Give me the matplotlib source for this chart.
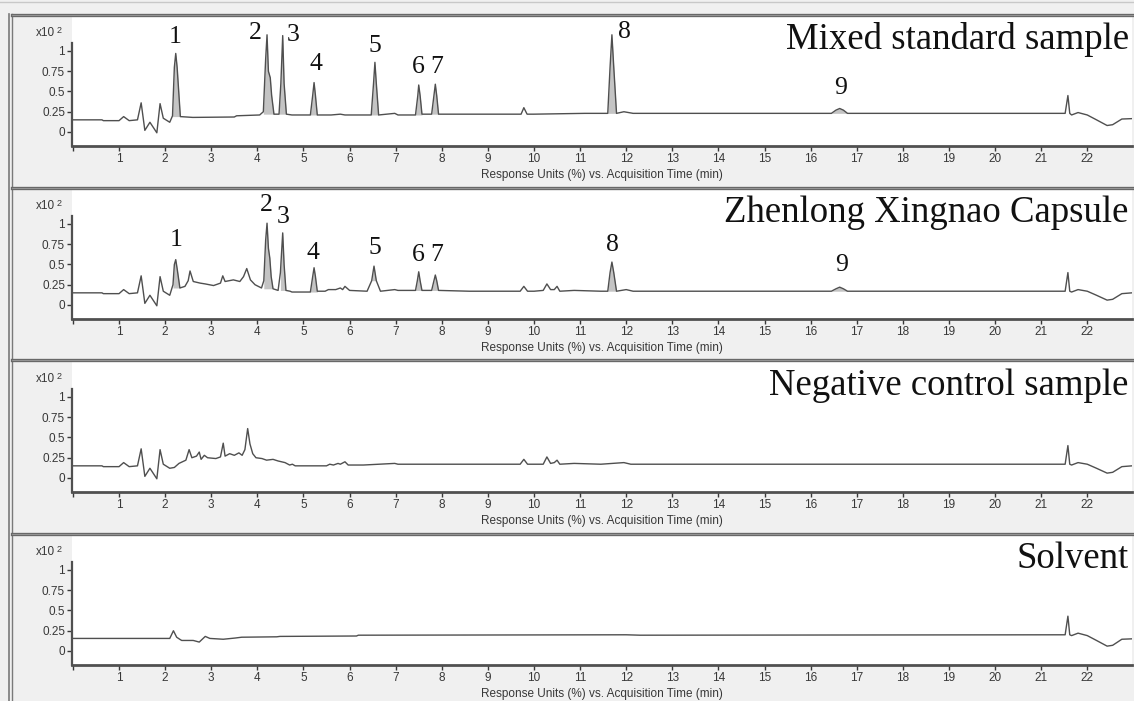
import numpy as np
import matplotlib.pyplot as plt
from matplotlib.lines import Line2D

# Retention time (min) / response (x10^2)
front_t = [0, 0.63, 0.66, 1.0, 1.1, 1.22, 1.4, 1.48, 1.56, 1.67, 1.82, 1.89, 1.96, 2.1]
front_y = [0.15, 0.15, 0.14, 0.14, 0.19, 0.14, 0.15, 0.36, 0.02, 0.12, -0.01, 0.35, 0.17, 0.12]

mixed_t = front_t + [2.16, 2.2, 2.23, 2.26, 2.33, 2.6, 3.5, 3.55, 4.05, 4.13, 4.18, 4.21, 4.24,
                     4.28, 4.31, 4.36, 4.47, 4.51, 4.55, 4.58, 4.63, 4.75, 5.15, 5.2, 5.23, 5.26,
                     5.3, 5.6, 5.8, 5.9, 6.0, 6.47, 6.52, 6.55, 6.58, 6.63, 6.98, 7.05, 7.43,
                     7.48, 7.5, 7.53, 7.57, 7.78, 7.83, 7.86, 7.89, 7.93, 8.6, 9.2, 9.72, 9.78,
                     9.85, 10.0, 11.1, 11.45, 11.6, 11.65, 11.69, 11.73, 11.79, 11.95, 12.15,
                     16.45, 16.55, 16.63, 16.71, 16.8, 21.52, 21.58, 21.62, 21.66, 21.8, 22.0,
                     22.2, 22.43, 22.55, 22.75, 22.97]
mixed_y = front_y + [0.2, 0.8, 0.97, 0.8, 0.19, 0.18, 0.185, 0.2, 0.21, 0.25, 0.9, 1.2, 0.75,
                     0.67, 0.45, 0.22, 0.22, 0.6, 1.19, 0.6, 0.22, 0.21, 0.21, 0.45, 0.61, 0.45,
                     0.21, 0.21, 0.22, 0.21, 0.21, 0.21, 0.6, 0.86, 0.6, 0.21, 0.23, 0.21, 0.21,
                     0.45, 0.58, 0.45, 0.22, 0.22, 0.45, 0.59, 0.45, 0.22, 0.22, 0.22, 0.22, 0.3,
                     0.22, 0.22, 0.23, 0.23, 0.23, 0.8, 1.2, 0.8, 0.23, 0.25, 0.23,
                     0.23, 0.27, 0.29, 0.27, 0.23, 0.23, 0.45, 0.23, 0.21, 0.24, 0.21,
                     0.15, 0.08, 0.09, 0.16, 0.165]

capsule_t = front_t + [2.17, 2.2, 2.23, 2.26, 2.32, 2.43, 2.5, 2.54, 2.61, 2.76, 2.87, 3.05, 3.2,
                       3.25, 3.3, 3.48, 3.62, 3.7, 3.77, 3.85, 3.95, 4.09, 4.14, 4.18, 4.21, 4.24,
                       4.27, 4.3, 4.34, 4.45, 4.5, 4.55, 4.58, 4.62, 4.71, 4.75, 5.15, 5.2, 5.23,
                       5.26, 5.3, 5.47, 5.54, 5.7, 5.8, 5.85, 5.9, 6.0, 6.38, 6.48, 6.53, 6.58,
                       6.67, 6.98, 7.05, 7.43, 7.47, 7.5, 7.53, 7.57, 7.78, 7.83, 7.86, 7.89, 7.93,
                       8.6, 8.9, 9.2, 9.7, 9.78, 9.86, 10.0, 10.2, 10.28, 10.36, 10.44, 10.5,
                       10.56, 10.87, 11.45, 11.6, 11.65, 11.69, 11.73, 11.79, 12.0, 12.15,
                       16.45, 16.55, 16.63, 16.71, 16.8, 21.52, 21.58, 21.62, 21.66, 21.8, 22.0,
                       22.2, 22.43, 22.55, 22.75, 22.97]
capsule_y = front_y + [0.25, 0.5, 0.56, 0.45, 0.21, 0.23, 0.3, 0.42, 0.29, 0.27, 0.26, 0.24, 0.27,
                       0.36, 0.29, 0.31, 0.29, 0.35, 0.45, 0.31, 0.25, 0.21, 0.3, 0.8, 1.01, 0.7,
                       0.58, 0.35, 0.2, 0.18, 0.4, 0.89, 0.5, 0.18, 0.17, 0.16, 0.16, 0.35, 0.46,
                       0.35, 0.17, 0.17, 0.19, 0.19, 0.21, 0.19, 0.23, 0.18, 0.17, 0.3, 0.48, 0.3,
                       0.17, 0.19, 0.18, 0.18, 0.3, 0.41, 0.3, 0.18, 0.18, 0.3, 0.37, 0.3, 0.18,
                       0.17, 0.17, 0.17, 0.17, 0.23, 0.17, 0.17, 0.18, 0.26, 0.19, 0.19, 0.23,
                       0.17, 0.18, 0.17, 0.17, 0.4, 0.53, 0.4, 0.17, 0.19, 0.17,
                       0.17, 0.2, 0.22, 0.2, 0.17, 0.17, 0.4, 0.17, 0.16, 0.19, 0.17,
                       0.12, 0.06, 0.07, 0.14, 0.15]

negative_t = front_t + [2.2, 2.3, 2.45, 2.52, 2.58, 2.68, 2.74, 2.78, 2.85, 2.92, 3.1, 3.2, 3.26,
                        3.3, 3.4, 3.5, 3.6, 3.67, 3.73, 3.79, 3.84, 3.9, 3.97, 4.1, 4.2, 4.34,
                        4.45, 4.6, 4.7, 4.76, 4.82, 5.5, 5.57, 5.65, 5.75, 5.8, 5.9, 5.97, 6.3,
                        6.98, 7.05, 9.7, 9.78, 9.86, 10.2, 10.28, 10.36, 10.44, 10.5, 10.56,
                        10.87, 11.45, 11.95, 12.1, 21.52, 21.58, 21.62, 21.66, 21.8, 22.0, 22.2,
                        22.43, 22.55, 22.75, 22.97]
negative_y = front_y + [0.13, 0.18, 0.22, 0.35, 0.25, 0.27, 0.32, 0.23, 0.28, 0.25, 0.24, 0.26, 0.43,
                        0.27, 0.3, 0.28, 0.31, 0.28, 0.35, 0.61, 0.42, 0.3, 0.25, 0.24, 0.22, 0.23,
                        0.21, 0.19, 0.16, 0.17, 0.15, 0.15, 0.17, 0.16, 0.18, 0.17, 0.2, 0.16, 0.16,
                        0.18, 0.17, 0.17, 0.23, 0.17, 0.17, 0.26, 0.18, 0.19, 0.22, 0.17,
                        0.18, 0.17, 0.19, 0.17, 0.17, 0.4, 0.17, 0.16, 0.19, 0.17, 0.12,
                        0.06, 0.07, 0.14, 0.15]

solvent_t = [0, 2.1, 2.18, 2.25, 2.33, 2.36, 2.61, 2.74, 2.87, 2.97, 3.26, 3.52, 3.66, 4.42, 4.49,
             6.15, 6.19, 12.0, 12.3, 21.52, 21.58, 21.62, 21.66, 21.8, 22.0, 22.2, 22.43, 22.55,
             22.75, 22.97]
solvent_y = [0.155, 0.155, 0.25, 0.17, 0.14, 0.13, 0.13, 0.11, 0.18, 0.155, 0.145, 0.16, 0.17, 0.175,
             0.18, 0.185, 0.195, 0.2, 0.195, 0.2, 0.43, 0.2, 0.19, 0.22, 0.19, 0.13, 0.06, 0.07,
             0.145, 0.15]

sample_names = ['Mixed standard sample', 'Zhenlong Xingnao Capsule',
                'Negative control sample', 'Solvent']

# integrated (grey-filled) peak windows, min
peak_windows = [(2.15, 2.33), (4.12, 4.36), (4.47, 4.63), (5.15, 5.3), (6.47, 6.63),
                (7.43, 7.57), (7.78, 7.93), (11.6, 11.79), (16.45, 16.8)]

peak_numbers = ['1', '2', '3', '4', '5', '6', '7', '8', '9']
mixed_label_x = [2.21, 3.95, 4.77, 5.26, 6.55, 7.5, 7.9, 11.97, 16.64]
mixed_label_y = [1.17, 1.22, 1.2, 0.84, 1.06, 0.8, 0.8, 1.24, 0.54]
capsule_label_x = [2.23, 4.2, 4.55, 5.2, 6.54, 7.5, 7.9, 11.7, 16.68]
capsule_label_y = [0.8, 1.23, 1.09, 0.64, 0.7, 0.62, 0.62, 0.74, 0.49]

traces = [(mixed_t, mixed_y), (capsule_t, capsule_y), (negative_t, negative_y), (solvent_t, solvent_y)]
labels = [(mixed_label_x, mixed_label_y), (capsule_label_x, capsule_label_y), None, None]
filled = [True, True, False, False]

W, H = 1134, 701
PITCH = 173
fig = plt.figure(figsize=(W / 100, H / 100), dpi=100, facecolor='#f0f0f0')
sans = ['Liberation Sans', 'DejaVu Sans']
serif = ['Liberation Serif', 'DejaVu Serif']
dark = '#505050'


def fx(px):
    return px / W


def fy(py):
    return 1 - py / H


# outer window frame
fig.add_artist(Line2D([0, 1], [fy(1.5), fy(1.5)], color='#c8c8c8', lw=1))
fig.add_artist(Line2D([fx(8.5), fx(8.5)], [fy(14), 0], color='#7a7a7a', lw=1.2))
fig.add_artist(Line2D([fx(12), fx(12)], [fy(14), 0], color='#7a7a7a', lw=1.0))

for k in range(4):
    off = PITCH * k
    # double separator line above each panel
    fig.add_artist(Line2D([fx(12), 1], [fy(14.5 + off), fy(14.5 + off)], color='#686868', lw=2.4))
    fig.add_artist(Line2D([fx(12), 1], [fy(14.5 + off), fy(14.5 + off)], color='#a8a8a8', lw=0.5))

    top, bottom = 16 + off, 146 + off
    ax = fig.add_axes([fx(72), fy(bottom), fx(1132) - fx(72), (bottom - top) / H])
    ax.set_facecolor('white')

    t = np.array(traces[k][0])
    y = np.array(traces[k][1])
    ax.plot(t, y, color='#4f4f4f', lw=1.0)

    if filled[k]:
        for a, b in peak_windows:
            m = (t >= a) & (t <= b)
            ax.fill_between(t[m], y[m], min(y[m][0], y[m][-1]), color='#c4c4c4', lw=0)

    if labels[k] is not None:
        lx, ly = labels[k]
        for s, xx, yy in zip(peak_numbers, lx, ly):
            ax.text(xx, yy, s, family=serif, fontsize=18.5, ha='center', va='center', color='#111111')

    ax.text(0.997, 0.748, sample_names[k], transform=ax.transAxes, family=serif, fontsize=26.5,
            ha='right', va='baseline', color='#111111')

    ax.set_xlim(-0.02, 22.97)
    ax.set_ylim(-0.173, 1.432)
    ax.set_xticks(range(0, 23))
    ax.set_xticklabels([''] + [str(i) for i in range(1, 23)])
    ax.set_yticks([0, 0.25, 0.5, 0.75, 1])
    ax.set_yticklabels(['0', '0.25', '0.5', '0.75', '1'])
    for lab in ax.get_xticklabels() + ax.get_yticklabels():
        lab.set_family(sans)
    ax.tick_params(axis='both', labelsize=8.5, colors='#383838', length=3.5, width=1, pad=1.5)

    for side in ['top', 'right']:
        ax.spines[side].set_visible(False)
    ax.spines['left'].set_bounds(-0.173, 1.1)
    ax.spines['left'].set_color(dark)
    ax.spines['left'].set_linewidth(1.6)
    ax.spines['bottom'].set_color(dark)
    ax.spines['bottom'].set_linewidth(2)

    ax.set_xlabel('Response Units (%) vs. Acquisition Time (min)', family=sans, fontsize=8.5,
                  color='#383838', labelpad=3)

    fig.text(fx(55), fy(33 + off), 'x10', family=sans, fontsize=8.5, color='#383838',
             ha='right', va='center')
    fig.text(fx(56.5), fy(30.5 + off), '2', family=sans, fontsize=6.5, color='#383838',
             ha='left', va='center')

fig.savefig('out.png', dpi=100, facecolor=fig.get_facecolor())
